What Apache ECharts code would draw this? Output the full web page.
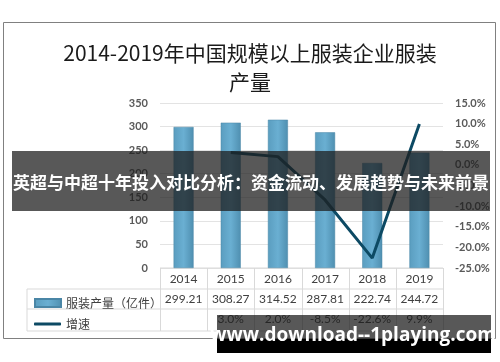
<!DOCTYPE html>
<html>
<head>
<meta charset="utf-8">
<script src="https://cdn.jsdelivr.net/npm/echarts@6/dist/echarts.min.js"></script>
<style>
  html, body { margin: 0; padding: 0; background: #fff; }
  #main { width: 500px; height: 362px; }
</style>
</head>
<body>
<div id="main"></div>
<script>
var years = ['2014', '2015', '2016', '2017', '2018', '2019'];
var output = [299.21, 308.27, 314.52, 287.81, 222.74, 244.72];   // 亿件
var growth = [null, 3.0, 2.0, -8.5, -22.6, 9.9];                  // %
var leftTicks = { min: 0, max: 350, interval: 50 };
var rightTicks = { min: -25, max: 15, interval: 5 };

var myChart = echarts.init(document.getElementById('main'));

var gridLeft = 160, gridRight = 443, gridTop = 103, gridBottom = 268;
var tableLeft = 27, rowY = [268, 289, 309, 331];
var colW = (gridRight - gridLeft) / years.length;
var lineColor = '#d9d9d9';
var txtFont = 'Lato, "Noto Sans CJK SC", sans-serif';

// 数据表格线
var tableLines = [];
tableLines.push({ type: 'line', shape: { x1: gridLeft, y1: rowY[0], x2: gridRight, y2: rowY[0] } });
for (var r = 1; r < rowY.length; r++) {
  tableLines.push({ type: 'line', shape: { x1: tableLeft, y1: rowY[r], x2: gridRight, y2: rowY[r] } });
}
tableLines.push({ type: 'line', shape: { x1: tableLeft, y1: rowY[1], x2: tableLeft, y2: rowY[3] } });
for (var c = 0; c <= years.length; c++) {
  var x = Math.round(gridLeft + c * colW) + 0.5;
  tableLines.push({ type: 'line', shape: { x1: x, y1: rowY[0], x2: x, y2: rowY[3] } });
}
tableLines.forEach(function (l) {
  l.style = { stroke: lineColor, lineWidth: 1 };
  l.z = 1;
});

var barGradient = new echarts.graphic.LinearGradient(0, 0, 1, 0, [
  { offset: 0, color: '#5a9dbf' },
  { offset: 0.5, color: '#6aafd2' },
  { offset: 1, color: '#4f8fb0' }
]);

function tableAxis(offset, fmt) {
  return {
    type: 'category',
    data: years,
    position: 'bottom',
    offset: offset,
    axisLine: { show: false },
    axisTick: { show: false },
    axisLabel: {
      interval: 0,
      margin: 4,
      fontSize: 12,
      color: '#404040',
      fontFamily: txtFont,
      formatter: fmt
    }
  };
}

var option = {
  backgroundColor: '#fff',
  animation: false,
  title: {
    text: '2014-2019年中国规模以上服装企业服装\n产量',
    left: 'center',
    top: 34,
    textStyle: {
      fontFamily: '"Noto Sans CJK SC", serif',
      fontSize: 21,
      fontWeight: 'normal',
      color: '#1a1a1a',
      lineHeight: 29
    }
  },
  legend: [
    {
      data: [{ name: '服装产量（亿件）', icon: 'rect' }],
      left: 29, top: 292, itemWidth: 26, itemHeight: 8,
      selectedMode: false,
      textStyle: { fontSize: 12, color: '#404040', fontFamily: '"Noto Sans CJK SC", sans-serif' }
    },
    {
      data: [{ name: '增速', icon: 'roundRect' }],
      left: 29, top: 313, itemWidth: 27, itemHeight: 3,
      selectedMode: false,
      textStyle: { fontSize: 12, color: '#404040', fontFamily: '"Noto Sans CJK SC", sans-serif' }
    }
  ],
  grid: { left: gridLeft, right: 500 - gridRight, top: gridTop, bottom: 362 - gridBottom },
  xAxis: [
    {
      type: 'category',
      data: years,
      axisLine: { show: false },
      axisTick: { show: false },
      axisLabel: { interval: 0, margin: 5, fontSize: 12, color: '#404040', fontFamily: txtFont }
    },
    tableAxis(21, function (v, i) { return output[i].toFixed(2); }),
    tableAxis(41, function (v, i) { return growth[i] == null ? '' : growth[i].toFixed(1) + '%'; })
  ],
  yAxis: [
    {
      type: 'value',
      min: leftTicks.min, max: leftTicks.max, interval: leftTicks.interval,
      axisLine: { show: false },
      axisTick: { show: false },
      axisLabel: { margin: 12, fontSize: 11, fontWeight: 'bold', color: '#595959', fontFamily: txtFont },
      splitLine: { lineStyle: { color: '#e3e3e3' } }
    },
    {
      type: 'value',
      min: rightTicks.min, max: rightTicks.max, interval: rightTicks.interval,
      axisLine: { show: false },
      axisTick: { show: false },
      axisLabel: {
        margin: 12, fontSize: 11, fontWeight: 'bold', color: '#595959', fontFamily: txtFont,
        formatter: function (v) { return v.toFixed(1) + '%'; }
      },
      splitLine: { show: false }
    }
  ],
  series: [
    {
      name: '服装产量（亿件）',
      type: 'bar',
      barWidth: 20,
      data: output,
      itemStyle: { color: barGradient, borderColor: '#4a86a6', borderWidth: 0.5 }
    },
    {
      name: '增速',
      type: 'line',
      yAxisIndex: 1,
      data: growth,
      symbol: 'none',
      itemStyle: { color: '#0d4a64' },
      lineStyle: { color: '#0d4a64', width: 3 }
    }
  ],
  graphic: tableLines.concat([
    {
      type: 'rect', z: 0,
      shape: { x: 3.5, y: 22.5, width: 492, height: 316 },
      style: { fill: null, stroke: '#808080', lineWidth: 1 }
    },
    // 水印横幅
    {
      type: 'rect', z: 100,
      shape: { x: 12, y: 151, width: 478, height: 60 },
      style: { fill: 'rgba(30,30,30,0.74)' }
    },
    {
      type: 'text', z: 101, x: 251, y: 183,
      style: {
        text: '英超与中超十年投入对比分析：资金流动、发展趋势与未来前景',
        fill: '#fff', fontSize: 17, fontWeight: 'bold',
        fontFamily: '"Noto Sans CJK SC", sans-serif',
        align: 'center', verticalAlign: 'middle'
      }
    },
    {
      type: 'rect', z: 100,
      shape: { x: 217, y: 315, width: 274, height: 24 },
      style: { fill: 'rgba(30,30,30,0.74)' }
    },
    {
      type: 'rect', z: 100,
      shape: { x: 217, y: 339, width: 274, height: 14 },
      style: { fill: '#000' }
    },
    {
      type: 'text', z: 101, x: 353, y: 336,
      style: {
        text: 'www.download--1playing.com',
        fill: '#fff', fontSize: 19, fontWeight: 'bold',
        fontFamily: '"Open Sans", sans-serif',
        align: 'center', verticalAlign: 'middle'
      }
    }
  ])
};

myChart.setOption(option);
</script>
</body>
</html>
